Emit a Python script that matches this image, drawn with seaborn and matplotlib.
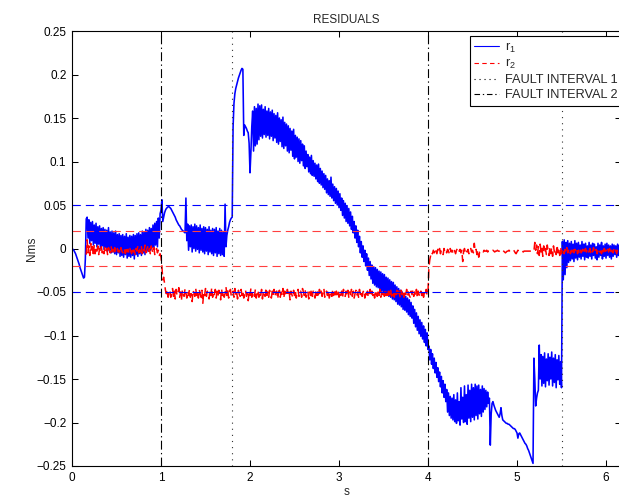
import numpy as np
import matplotlib
matplotlib.use("Agg")
import matplotlib.pyplot as plt
import seaborn as sns

# Sampling step of the logged residuals [s]
DT = 0.01

# ---- residual r1, in mNms, sampled from t = 0 s ----
r1_startup = [0, -1, -2, -4, -6, -9, -12, -15, -18, -22, -25, -28, -31, -34, -33, -12, 34]
r1_nominal = [
    36, 12, 33, 6, 30, 9, 31, 4, 27, 6,
    29, 2, 25, 5, 26, 0, 23, 3, 24, -1,
    22, 1, 21, -3, 24, -2, 19, -5, 20, -4,
    18, -6, 20, -7, 16, -5, 17, -9, 15, -8,
    16, -10, 14, -7, 17, -11, 13, -9, 15, -10,
    14, -8, 16, -12, 15, -7, 17, -9, 18, -6,
    16, -8, 20, -5, 19, -7, 22, -4, 21, -3,
    24, -2, 23, 1, 27, -1, 29, 4, 31, 2,
    35, 12, 40,
]
r1_fault2_onset = [
    44, 56, 31, 36, 41, 44, 46, 47, 48, 48,
    47, 46, 44, 42, 40, 38, 36, 33, 31, 29,
    27, 26, 24, 22, 21, 20, 19, 18, 58, 9,
    28, -2, 26, 2, 27, -4, 25, 0, 28, -3,
    26, -1, 24, -5, 27, -2, 23, -4, 25, -6,
    24, -3, 22, -7, 25, -4, 21, -6, 23, -8,
    22, -5, 24, -9, 20, -6, 23, -8, 21, -7,
    19, -9, 51, 2, 15, 21, 25, 30, 33, 35,
    36,
]
r1_fault1_jump = [
    140, 167, 178, 184, 188, 192, 196, 199, 202, 205,
    207, 206, 130, 142, 140, 138, 135, 133, 121, 87,
    110, 140,
]
r1_decay = [
    158, 112, 163, 118, 161, 120, 166, 125, 164, 129,
    165, 127, 160, 131, 163, 128, 158, 130, 161, 126,
    157, 129, 159, 124, 155, 127, 153, 122, 156, 120,
    150, 123, 148, 117, 151, 115, 145, 118, 143, 112,
    141, 110, 138, 113, 135, 106, 137, 103, 130, 105,
    128, 100, 126, 98, 124, 101, 120, 95, 118, 92,
    112, 94, 108, 88, 105, 86, 107, 84, 101, 83,
    98, 80, 96, 77, 97, 75, 92, 73, 89, 70,
    86, 68, 84, 64, 80, 62, 78, 60, 82, 58,
    74, 55, 71, 52, 69, 50, 66, 47, 63, 44,
]
r1_crossing = [
    58, 38, 55, 35, 52, 31, 49, 29, 46, 26,
    42, 22, 37, 18, 31, 12, 26, 7, 21, 2,
    14, -5, 8, -10, 3, -15, -2, -20, -6, -25,
    -11, -31, -15, -35, -19, -40, -21, -42, -22, -44,
    -24, -45, -26, -47, -27, -49, -29, -50, -30, -52,
    -33, -53, -34, -55, -36, -56, -38, -58, -39, -59,
    -42, -61, -44, -64, -46, -65, -48, -67, -50, -70,
    -53, -71, -55, -73, -57, -76, -59, -78, -62, -80,
    -66, -86, -70, -90, -74, -94, -78, -98, -82, -101,
    -85, -104, -89, -108, -93, -112, -97, -116,
]
r1_trough = [
    -112, -128, -116, -133, -121, -138, -126, -143, -131, -148,
    -137, -153, -142, -159, -147, -166, -152, -171, -156, -176,
    -162, -188, -166, -192, -170, -195, -172, -197, -168, -199,
    -174, -201, -166, -198, -176, -203, -160, -196, -171, -200,
    -158, -199, -168, -202, -157, -195, -163, -199, -156, -194,
    -160, -197, -156, -192, -158, -196, -157, -190, -162, -193,
    -158, -188, -161, -185, -163, -182, -165, -178, -172, -226,
]
r1_drift = [
    -190, -178, -176, -180, -183, -186, -188, -190, -192, -194,
    -190, -183, -192, -197, -198, -199, -200, -201, -201, -202,
    -202, -203, -204, -205, -206, -207, -207, -208, -210, -212,
    -218, -213, -212, -214, -216, -218, -220, -222, -224, -225,
    -227, -230, -232, -235, -238, -241, -244, -247,
]
r1_fault1_second = [
    -126, -150, -181, -172, -166, -163, -111, -150, -122, -158,
    -124, -155, -120, -159, -127, -152, -121, -157, -125, -150,
    -119, -158, -126, -154, -122, -160, -128, -151, -123, -156,
    -130, -160,
]
r1_recovered = [
    8, -36, 10, -30, 7, -22, 9, -16, 6, -14,
    8, -12, 5, -15, 9, -11, 6, -13, 7, -10,
    4, -12, 8, -9, 5, -13, 6, -10, 3, -11,
    7, -9, 4, -12, 6, -8, 5, -11, 2, -13,
    6, -10, 4, -8, 7, -12, 3, -9, 5, -11,
    6, -8, 4, -10, 3, -12, 5, -9, 4, -7,
    3, -10, 5, -8, 4, -9,
]

# ---- residual r2, in mNms, logged from t = 0.16 s ----
R2_START = 0.16
r2_nominal = [
    -7, 10, -5, 3, -8, 6, -4, 2, -9, 4,
    -6, 1, -3, 3, -7, 0, -4, 2, -5, -1,
    -6, 2, -3, 0, -7, 1, -2, -5, 2, -4,
    -1, -6, 1, -3, -5, 0, -4, -2, -6, 1,
    -3, -5, 0, -2, -6, 2, -4, -1, -5, 0,
    -3, -6, 1, -4, -2, -7, 0, -3, 3, -5,
    -1, -4, 2, -6, 0, -3, 4, -5, -1, 2,
    -4, 0, -6, 3, -2, -5, 1, -7, -3, 0,
    -5, -2, -8, -6,
]
r2_fault2 = [
    -10, -20, -36, -33, -40, -48, -52, -47, -56, -50,
    -48, -56, -51, -46, -55, -49, -58, -47, -54, -52,
    -45, -56, -50, -59, -48, -53, -55, -46, -51, -57,
    -49, -54, -47, -56, -52, -61, -48, -51, -55, -46,
    -54, -49, -57, -47, -52, -56, -48, -63, -50, -54,
    -46, -55, -49, -53, -58, -48, -54, -45, -56, -50,
    -53, -47, -57, -49, -55, -48, -51, -59, -46, -54,
    -49, -56, -52, -44, -54, -48, -57, -50, -47, -55,
    -52, -49, -56, -46, -54, -50, -58, -48, -53, -55,
    -47, -54, -49, -57, -50, -48, -55, -52, -60, -49,
    -54, -46, -56, -50, -49, -55, -47, -57, -52, -48,
    -56, -50, -54, -47, -58, -49, -53, -55, -45, -54,
    -50, -56, -48, -53, -57, -49, -54, -47, -55, -50,
    -49, -58, -52, -48, -56, -50, -54, -46, -57, -49,
    -53, -55, -47, -54, -50, -59, -49, -53, -56, -48,
    -54, -49, -57, -50, -47, -55, -52, -49, -56, -46,
    -50, -54, -48, -56, -52, -49, -58, -50, -54, -47,
    -55, -49, -53, -57, -48, -54, -50, -56, -47, -53,
    -49, -55, -50, -46, -56, -52, -49, -54, -48, -57,
    -53, -49, -55, -47, -54, -50, -56, -49, -53, -48,
    -56, -50, -54, -49, -57, -47, -53, -55, -49, -54,
    -48, -56, -50, -53, -47, -55, -49, -57, -52, -48,
    -54, -50, -56, -47, -53, -49, -55, -50, -48, -57,
    -50, -54, -49, -56, -52, -47, -55, -49, -54, -50,
    -57, -48, -53, -55, -49, -54, -47, -56, -50, -53,
    -49, -55, -48, -54, -50, -57, -49, -53, -47, -55,
    -53, -49, -56, -50, -54, -48, -55, -49, -53, -57,
    -48, -54, -50, -56, -49, -53, -47, -55, -50, -54,
    -56, -49, -53, -48, -55, -50, -54, -47, -57, -49,
    -53, -55, -49, -54, -48, -56, -50, -53, -47, -54,
    -50,
]
r2_after = [
    -22, -13, -8, -4, -6, -2, -5, 0, -3, -6,
    -1, -4, 0, -6, -2, -3, -7, 0, -4, -2,
    -5, -1, -3, -6, 0, -4, -2, -5, -1, -3,
    -6, -2, 0, -4, -3, -1, -5, -2, -15, -3,
    0, -5, -2, -4, -1, -6, -3, 0, -4, -2,
    -5, 6, -3, -1, -7, -2, -10, -4, -3, -2,
    -3, -4, -2, -3, -3, -2, -4, -3, -3, -2,
    -3, -3, -2, -3, -4, -3, -3, -2, -3, -3,
    -4, -3, -3, -2, -3, -4, -5, -4, -3, -3,
    -2, -3, -3, -4, -3, -2, -3, -5, -6, -4,
    -2, -3, -3, -2, -3, -3, -4, -3, -3, -3,
    -3, -3, -3, -3, -3, -3, -3, -3, -3, 7,
    -2, 4, -6, 2, -8, 5, -4, 1, -9, 3,
    -5, 0, -7, 4, -3, -8, 2, -6, 1, -9,
    3, -4, -1, -7, 4, -5, 0, -8, 2, -6,
    -3, 0, -6, -1, -4, 1, -5, -2, 0, -6,
    -2, -4, 1, -5, -1, -3, 0, -6, -2, -4,
    0, -5, -3, -1, -6, -2, 0, -4, -1, -5,
    -3, 0, -6, -2, -4, 1, -5, -3, -1, -6,
    -2, 0, -4, -3, -6, -1, -5, 0, -3, -2,
    -5, -1, -4, 0, -6, -2, -3, -5, 0, -4,
    -2, -6, -1, -3, -5, 0,
]

# Detection thresholds [Nms]
thr_r1 = 0.05
thr_r2 = 0.02
# Fault instants [s]
fault1_times = [1.8, 5.5]
fault2_times = [1.0, 4.0]

yticks = [-0.25, -0.2, -0.15, -0.1, -0.05, 0, 0.05, 0.1, 0.15, 0.2, 0.25]
ytick_labels = ["\u22120.25", "\u22120.2", "\u22120.15", "\u22120.1", "\u22120.05", "0",
                "0.05", "0.1", "0.15", "0.2", "0.25"]
xticks = [0, 1, 2, 3, 4, 5, 6]

r1 = np.array(r1_startup + r1_nominal + r1_fault2_onset + r1_fault1_jump + r1_decay
              + r1_crossing + r1_trough + r1_drift + r1_fault1_second + r1_recovered) / 1000.0
r2 = np.array(r2_nominal + r2_fault2 + r2_after) / 1000.0
t1 = np.arange(len(r1)) * DT
t2 = R2_START + np.arange(len(r2)) * DT

sns.set_style("ticks")
plt.rcParams["font.family"] = ["Liberation Sans", "DejaVu Sans"]
plt.rcParams["mathtext.fontset"] = "custom"
plt.rcParams["mathtext.rm"] = "Liberation Sans"
plt.rcParams["mathtext.it"] = "Liberation Sans:italic"

FS = 8.5
W, H = 619, 499
fig = plt.figure(figsize=(W / 100, H / 100), dpi=100)
fig.patch.set_facecolor("white")
ax = fig.add_axes([72 / W, 33 / H, (621 - 72) / W, 435 / H])
ax.set_facecolor("white")

sns.lineplot(x=t1, y=r1, ax=ax, color="#0000ff", linewidth=1.15,
             estimator=None, sort=False, legend=False)
sns.lineplot(x=t2, y=r2, ax=ax, color="#ff0000", linewidth=1.1,
             estimator=None, sort=False, legend=False, linestyle=(0, (6, 3)))

dash = (0, (7.5, 4.5))
for s in (1, -1):
    ax.axhline(s * thr_r1, color="#0000ff", lw=0.8, ls=dash)
    ax.axhline(s * thr_r2, color="#ff4040", lw=0.8, ls=dash)
for tf in fault1_times:
    ax.axvline(tf, color="#333333", lw=0.8, ls=(0, (1, 4.5)))
for tf in fault2_times:
    ax.axvline(tf, color="black", lw=0.8, ls=(0, (8, 3, 1.2, 3)))

ax.set_xlim(0, (621 - 72) / 89)
ax.set_ylim(-0.25, 0.25)
ax.set_xticks(xticks)
ax.set_xticklabels([str(v) for v in xticks], fontsize=FS)
ax.set_yticks(yticks)
ax.set_yticklabels(ytick_labels, fontsize=FS)
ax.tick_params(direction="in", length=4, width=0.75, top=True, right=True,
               pad=4, colors="black")
for sp in ax.spines.values():
    sp.set_visible(True)
    sp.set_linewidth(0.8)
    sp.set_color("black")

ax.set_title("RESIDUALS", fontsize=FS, pad=6)
ax.set_ylabel("Nms", fontsize=FS)
ax.yaxis.set_label_coords(-34 / 549, 0.5)
ax.set_xlabel("s", fontsize=FS)
ax.xaxis.set_label_coords(0.5, -(486 - 466) / 435)

handles = [
    plt.Line2D([], [], color="#0000ff", lw=0.8),
    plt.Line2D([], [], color="#ff0000", lw=0.8, ls=(0, (4, 3))),
    plt.Line2D([], [], color="black", lw=0.8, ls=(0, (1, 3.5))),
    plt.Line2D([], [], color="black", lw=0.8, ls=(0, (5, 2.5, 1.2, 2.5))),
]
labels = ["r$_1$", "r$_2$", "FAULT INTERVAL 1", "FAULT INTERVAL 2"]
leg = ax.legend(handles, labels, loc="upper left",
                bbox_to_anchor=(470 / W, 1 - 36 / H), bbox_transform=fig.transFigure,
                fontsize=9.2, frameon=True, fancybox=False, framealpha=1,
                edgecolor="black", borderpad=0.35, labelspacing=0.22,
                handlelength=1.9, handletextpad=0.5, borderaxespad=0)
leg.get_frame().set_linewidth(0.8)

fig.savefig("out.png", dpi=100, facecolor="white")
